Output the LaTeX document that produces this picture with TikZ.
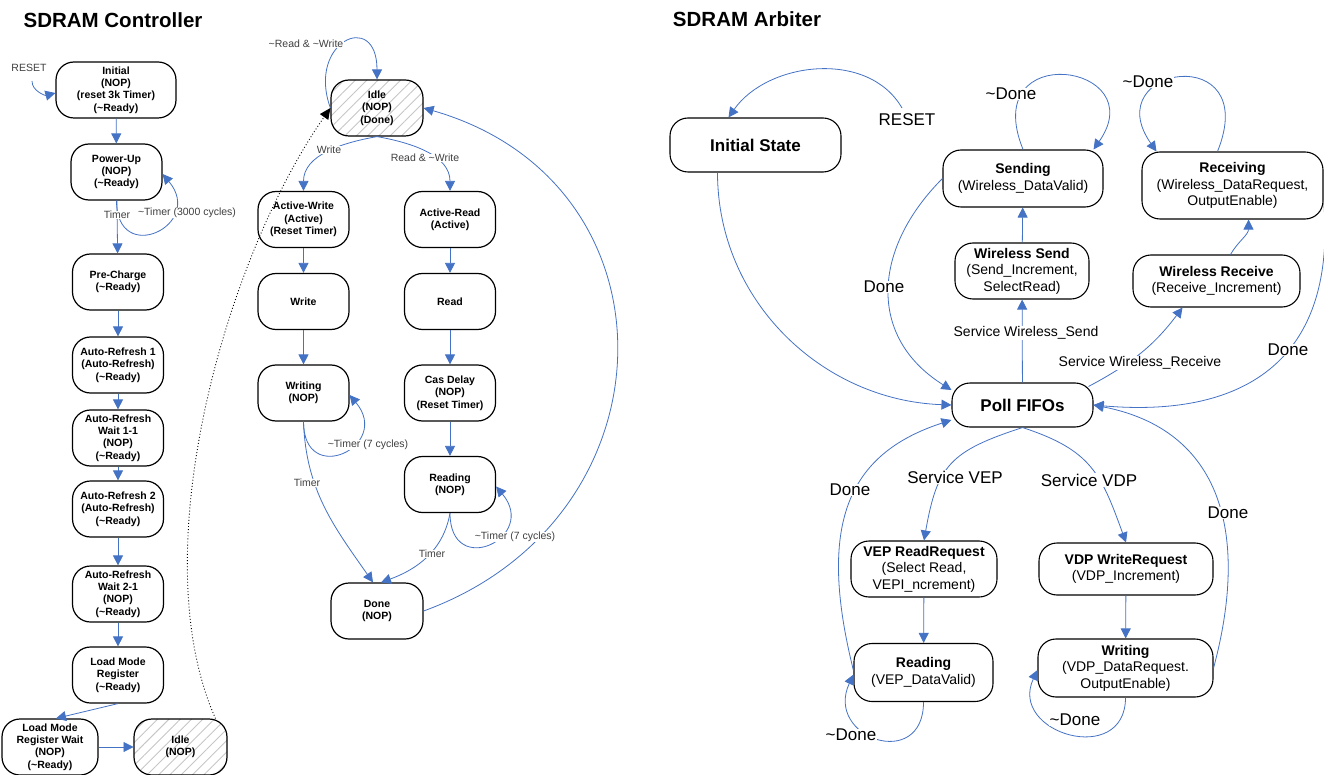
\documentclass[tikz,border=0pt]{standalone}
\usepackage{fontspec}
\setmainfont{Liberation Sans}
\usetikzlibrary{arrows.meta,positioning,patterns.meta}
\definecolor{edgeblue}{HTML}{4472C4}
\definecolor{lblgray}{HTML}{404040}
\newcommand{\tld}{\textasciitilde}

\tikzset{
  ctlstate/.style={draw, line width=1.2pt, rounded corners=18pt, minimum width=91pt,
    minimum height=56pt, inner sep=1pt, align=center,
    font=\fontsize{10.5}{12.3}\selectfont\bfseries},
  arbstate/.style={draw, line width=1.1pt, rounded corners=18pt, inner sep=1pt,
    align=center, font=\fontsize{14}{16.5}\selectfont},
  arbbold/.style={font=\fontsize{17}{20}\selectfont\bfseries},
  hatched/.style={pattern={Lines[angle=45,distance=8pt,line width=0.9pt]}, pattern color=gray!45},
  trans/.style={draw=edgeblue, line width=0.8pt, -{Triangle[width=10pt,length=10pt]}},
  dotlink/.style={draw=black, line width=0.9pt, dash pattern=on 0.9pt off 2.2pt,
    -{Triangle[width=10pt,length=11pt]}},
  ctllbl/.style={font=\fontsize{10.5}{12}\selectfont, text=lblgray, fill=white, inner sep=0.5pt},
  arblbl/.style={font=\fontsize{17}{20}\selectfont, fill=white, inner sep=0.5pt},
  svclbl/.style={font=\fontsize{14}{17}\selectfont, fill=white, inner sep=0.5pt},
}

\begin{document}
\begin{tikzpicture}[x=1pt, y=1pt]
  \useasboundingbox (0,0) rectangle (1324,-775);

  % Titles
  \node[font=\fontsize{20.5}{24}\selectfont\bfseries] (ctltitle) at (113,-20) {SDRAM Controller};
  \node[font=\fontsize{20.5}{24}\selectfont\bfseries] (arbtitle) at (747,-19) {SDRAM Arbiter};

  % Controller: power-up sequence
  \node[ctlstate, minimum width=120pt] (init) at (116,-90) {Initial\\(NOP)\\(reset 3k Timer)\\(\tld Ready)};
  \node[ctlstate] (pwrup) at (116.5,-172) {Power-Up\\(NOP)\\(\tld Ready)};
  \node[ctlstate] (prechg) at (118,-282) {Pre-Charge\\(\tld Ready)};
  \node[ctlstate] (aref1) at (118,-365) {Auto-Refresh 1\\(Auto-Refresh)\\(\tld Ready)};
  \node[ctlstate] (arwait1) at (118,-438) {Auto-Refresh\\Wait 1-1\\(NOP)\\(\tld Ready)};
  \node[ctlstate] (aref2) at (118,-509) {Auto-Refresh 2\\(Auto-Refresh)\\(\tld Ready)};
  \node[ctlstate] (arwait2) at (118,-594) {Auto-Refresh\\Wait 2-1\\(NOP)\\(\tld Ready)};
  \node[ctlstate] (lmr) at (118,-675) {Load Mode\\Register\\(\tld Ready)};
  \node[ctlstate, minimum width=96pt] (lmrwait) at (50,-747) {Load Mode\\Register Wait\\(NOP)\\(\tld Ready)};
  \node[ctlstate, hatched, minimum width=93pt] (idle0) at (180.5,-747) {Idle\\(NOP)};

  % Controller: read / write loop
  \node[ctlstate, hatched, minimum width=92pt] (idle1) at (377,-108) {Idle\\(NOP)\\(Done)};
  \node[ctlstate] (actw) at (303.5,-219.5) {Active-Write\\(Active)\\(Reset Timer)};
  \node[ctlstate] (actr) at (450,-219.5) {Active-Read\\(Active)};
  \node[ctlstate] (wrcmd) at (303.5,-301.5) {Write};
  \node[ctlstate] (rdcmd) at (450,-301.5) {Read};
  \node[ctlstate] (writing) at (303.5,-393) {Writing\\(NOP)};
  \node[ctlstate] (casdly) at (450,-393) {Cas Delay\\(NOP)\\(Reset Timer)};
  \node[ctlstate] (reading) at (450,-484.5) {Reading\\(NOP)};
  \node[ctlstate, minimum width=92pt] (done) at (377,-611) {Done\\(NOP)};

  % Arbiter states
  \node[arbstate, arbbold, minimum width=171pt, minimum height=54pt] (initst) at (755.5,-145) {Initial State};
  \node[arbstate, minimum width=160pt, minimum height=57pt] (sending) at (1023,-178.5) {\textbf{Sending}\\(Wireless\_DataValid)};
  \node[arbstate, minimum width=181pt, minimum height=67pt] (recving) at (1232.5,-185.5) {\textbf{Receiving}\\(Wireless\_DataRequest,\\OutputEnable)};
  \node[arbstate, minimum width=134pt, minimum height=56pt] (wlsend) at (1022,-271) {\textbf{Wireless Send}\\(Send\_Increment,\\SelectRead)};
  \node[arbstate, minimum width=167pt, minimum height=52pt] (wlrecv) at (1216.5,-281) {\textbf{Wireless Receive}\\(Receive\_Increment)};
  \node[arbstate, arbbold, minimum width=141pt, minimum height=44pt] (poll) at (1022.5,-405) {Poll FIFOs};
  \node[arbstate, minimum width=146pt, minimum height=56pt] (vepreq) at (924,-569) {\textbf{VEP ReadRequest}\\(Select Read,\\VEPI\_ncrement)};
  \node[arbstate, minimum width=139pt, minimum height=58pt] (veprd) at (923.5,-672.5) {\textbf{Reading}\\(VEP\_DataValid)};
  \node[arbstate, minimum width=174pt, minimum height=52pt] (vdpreq) at (1126,-569) {\textbf{VDP WriteRequest}\\(VDP\_Increment)};
  \node[arbstate, minimum width=175pt, minimum height=58pt] (vdpwr) at (1125.5,-668) {\textbf{Writing}\\(VDP\_DataRequest.\\OutputEnable)};

  % Controller transitions
  \coordinate (rstin) at (32,-81);
  \draw[trans] (rstin) to[out=-90,in=195] ([yshift=-3pt]init.west);
  \draw[trans] (init) -- (pwrup);
  \draw[trans] (pwrup) -- (prechg);
  \draw[trans] (pwrup.south) to[out=-90,in=-50,looseness=3.2] ([yshift=-2pt]pwrup.east);
  \draw[trans] (prechg) -- (aref1);
  \draw[trans] (aref1) -- (arwait1);
  \draw[trans] (arwait1) -- (aref2);
  \draw[trans] (aref2) -- (arwait2);
  \draw[trans] (arwait2) -- (lmr);
  \draw[trans] (lmr.south) -- ([xshift=6pt]lmrwait.north);
  \draw[trans] (lmrwait) -- (idle0);
  \draw[dotlink] ([xshift=35pt]idle0.north) to[out=114,in=235,looseness=0.75] (idle1.west);

  \draw[trans] (idle1.west) to[out=110,in=90,looseness=3.3] (idle1.north);
  \draw[trans] (idle1.south) to[out=190,in=90] (actw.north);
  \draw[trans] (idle1.south) to[out=-10,in=90] (actr.north);
  \draw[trans] (actw) -- (wrcmd);
  \draw[trans] (wrcmd) -- (writing);
  \draw[trans] (actr) -- (rdcmd);
  \draw[trans] (rdcmd) -- (casdly);
  \draw[trans] (casdly) -- (reading);
  \draw[trans] (writing.south) to[out=-90,in=-50,looseness=3.2] ([yshift=-2pt]writing.east);
  \draw[trans] (writing.south) to[out=-88,in=125] ([xshift=-4pt]done.north);
  \draw[trans] (reading.south) to[out=-100,in=20] ([xshift=4pt]done.north);
  \draw[trans] (reading.south) to[out=-90,in=-50,looseness=3.2] ([yshift=-2pt]reading.east);
  \draw[trans] (done.east) to[out=20,in=-16,looseness=1.38] (idle1.east);

  % Arbiter transitions
  \coordinate (rstin2) at (902,-108);
  \draw[trans] (rstin2) to[out=120,in=55] ([xshift=-27pt]initst.north);
  \draw[trans] ([xshift=-38pt]initst.south) to[out=-90,in=178] (poll.west);
  \draw[trans] (sending.west) to[out=225,in=148,looseness=1.2] ([yshift=15pt]poll.west);
  \draw[trans] ([yshift=-15pt]recving.east) to[out=-85,in=-5,looseness=1.3] (poll.east);
  \draw[trans] (poll) -- (wlsend);
  \draw[trans] (wlsend) -- (sending);
  \draw[trans] ([xshift=-5pt,yshift=-4pt]poll.north east) to[out=28,in=-127] ([xshift=-34pt]wlrecv.south);
  \draw[trans] ([xshift=14pt]wlrecv.north) to[out=60,in=-90] ([xshift=16pt]recving.south);
  \draw[trans] (sending.north) to[out=112,in=55,out distance=120pt,in distance=105pt] ([xshift=-10pt]sending.north east);
  \draw[trans] ([xshift=-15pt]recving.north) to[out=68,in=125,out distance=120pt,in distance=105pt] ([xshift=15pt]recving.north west);
  \draw[trans] (poll.south) to[out=198,in=80,looseness=1.3] (vepreq.north);
  \draw[trans] (poll.south) to[out=-18,in=110,looseness=1.2] (vdpreq.north);
  \draw[trans] (vepreq) -- (veprd);
  \draw[trans] (vdpreq) -- (vdpwr);
  \draw[trans] ([yshift=2pt]veprd.west) to[out=104,in=198,out distance=150pt,in distance=110pt] ([yshift=-15pt]poll.west);
  \draw[trans] (veprd.south) to[out=-90,in=-115,distance=70pt] ([yshift=-2pt]veprd.west);
  \draw[trans] (vdpwr.east) to[out=75,in=-11,out distance=140pt,in distance=130pt] (poll.east);
  \draw[trans] (vdpwr.south) to[out=-90,in=-115,distance=70pt] ([yshift=-2pt]vdpwr.west);

  % Controller labels
  \node[ctllbl] (lrst) at (29,-68) {RESET};
  \node[ctllbl] (ltmr1) at (117,-215) {Timer};
  \node[ctllbl] (ltmr2) at (187,-213) {\tld Timer (3000 cycles)};
  \node[ctllbl] (lidle) at (306,-44) {\tld Read \& \tld Write};
  \node[ctllbl] (lwrite) at (329,-150) {Write};
  \node[ctllbl] (lread) at (425,-158) {Read \& \tld Write};
  \node[ctllbl] (lwrloop) at (368,-445) {\tld Timer (7 cycles)};
  \node[ctllbl] (lwrtmr) at (307,-483) {Timer};
  \node[ctllbl] (lrdtmr) at (432,-554) {Timer};
  \node[ctllbl] (lrdloop) at (515,-537) {\tld Timer (7 cycles)};

  % Arbiter labels
  \node[arblbl] (lrst2) at (907,-120) {RESET};
  \node[arblbl] (lsnddone) at (884,-287) {Done};
  \node[arblbl] (lsndloop) at (1011,-94) {\tld Done};
  \node[arblbl] (lrcvloop) at (1148,-82) {\tld Done};
  \node[svclbl] (lsvcsnd) at (1026,-333) {Service Wireless\_Send};
  \node[svclbl] (lsvcrcv) at (1140,-363) {Service Wireless\_Receive};
  \node[arblbl] (lrcvdone) at (1288,-350) {Done};
  \node[arblbl] (lsvcvep) at (955,-477) {Service VEP};
  \node[arblbl] (lsvcvdp) at (1089,-480) {Service VDP};
  \node[arblbl] (lvepdone) at (850,-490) {Done};
  \node[arblbl] (lvdpdone) at (1228,-513) {Done};
  \node[arblbl] (lveploop) at (851,-735) {\tld Done};
  \node[arblbl] (lvdploop) at (1075,-720) {\tld Done};
\end{tikzpicture}
\end{document}
